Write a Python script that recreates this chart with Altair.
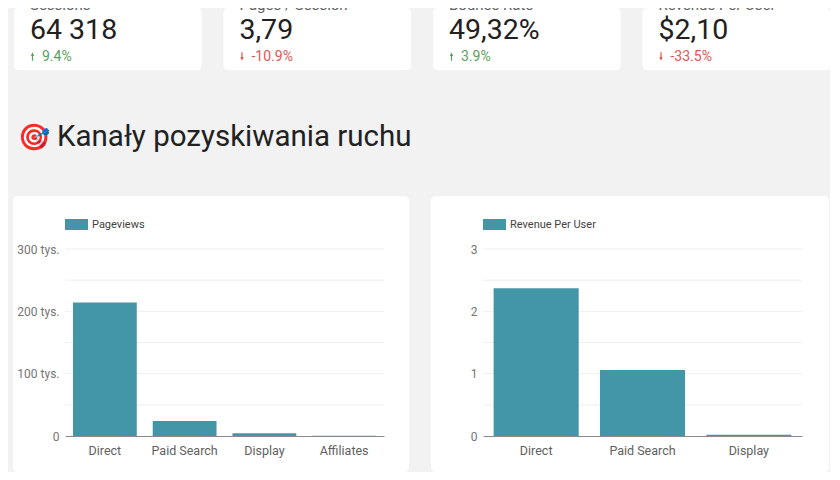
"""Dashboard: KPI i kanały pozyskiwania ruchu."""

import altair as alt
import pandas as pd


TLO = "#f2f2f2"
TURKUS = "#4396a6"
ZIELONY = "#5a9e5c"
CZERWONY = "#e0574f"
TEKST = "#212121"
SZARY = "#616161"

# KPI
kpi_nazwy = ["Sessions", "Pages / Session", "Bounce Rate", "Revenue Per User"]
kpi_wartosci = ["64 318", "3,79", "49,32%", "$2,10"]
kpi_zmiany = [9.4, -10.9, 3.9, -33.5]

naglowek = "Kanały pozyskiwania ruchu"

# wykres 1
kanaly_pv = ["Direct", "Paid Search", "Display", "Affiliates"]
pageviews = [214000, 24000, 4400, 300]
siatka_pv = [50000, 100000, 150000, 200000, 250000, 300000]
osie_pv = [0, 100000, 200000, 300000]

# wykres 2
kanaly_rpu = ["Direct", "Paid Search", "Display"]
revenue_per_user = [2.37, 1.06, 0.02]
siatka_rpu = [0.5, 1, 1.5, 2, 2.5, 3]
osie_rpu = [0, 1, 2, 3]

PRZESUNIECIE = -51  # karty KPI zaczynają się przy lewej krawędzi karty wykresu


def karty_kpi() -> alt.LayerChart:
    df = pd.DataFrame({"nazwa": kpi_nazwy, "wartosc": kpi_wartosci, "zmiana": kpi_zmiany})
    df["tekst"] = df["zmiana"].map(lambda z: f"{z}%")
    szer = 816 + PRZESUNIECIE
    skala = alt.Scale(paddingInner=0.105, paddingOuter=0, range=[PRZESUNIECIE, szer])
    x_start = alt.X("nazwa:N", sort=kpi_nazwy, axis=None, scale=skala, bandPosition=0)
    kolor = alt.condition("datum.zmiana > 0", alt.value(ZIELONY), alt.value(CZERWONY))
    base = alt.Chart(df)

    karta = base.mark_rect(color="white", cornerRadius=4).encode(
        x=alt.X("nazwa:N", sort=kpi_nazwy, axis=None, scale=skala),
        y=alt.value(0),
        y2=alt.value(62),
    )
    etykieta = base.mark_text(align="left", baseline="bottom", dx=16, fontSize=15, color=SZARY).encode(
        x=x_start, y=alt.value(5), text="nazwa:N"
    )
    wartosc = base.mark_text(align="left", baseline="alphabetic", dx=16, fontSize=28.5, color=TEKST).encode(
        x=x_start, y=alt.value(31), text="wartosc:N"
    )
    w_gore = base.transform_filter("datum.zmiana > 0").mark_point(
        shape="arrow", filled=True, size=70, xOffset=18.5, opacity=1, color=ZIELONY
    ).encode(x=x_start, y=alt.value(48.5))
    w_dol = base.transform_filter("datum.zmiana < 0").mark_point(
        shape="arrow", filled=True, size=70, xOffset=18.5, opacity=1, angle=180, color=CZERWONY
    ).encode(x=x_start, y=alt.value(48.5))
    zmiana = base.mark_text(align="left", baseline="alphabetic", dx=28, fontSize=14).encode(
        x=x_start, y=alt.value(53), text="tekst:N", color=kolor
    )
    tytul = alt.Chart(pd.DataFrame({"t": [naglowek]}))
    ikona = tytul.mark_text(align="left", baseline="middle", fontSize=26, text="🎯").encode(
        x=alt.value(PRZESUNIECIE + 4), y=alt.value(130)
    )
    napis = tytul.mark_text(align="left", baseline="alphabetic", fontSize=29.5, color=TEKST).encode(
        x=alt.value(PRZESUNIECIE + 43), y=alt.value(138), text="t:N"
    )
    return alt.layer(karta, etykieta, wartosc, w_gore, w_dol, zmiana, ikona, napis).properties(
        width=szer, height=188
    )


def panel(kanaly, wartosci, seria, siatka, osie, domena, label_expr, prawy=26) -> alt.LayerChart:
    """Karta z wykresem słupkowym."""
    w, h = 319, 187
    df = pd.DataFrame({"kanal": kanaly, "wartosc": wartosci})
    jedna = alt.Chart(pd.DataFrame({"seria": [seria]}))
    karta = jedna.mark_rect(color="white", cornerRadius=4).encode(
        x=alt.value(-52), x2=alt.value(w + prawy), y=alt.value(-53), y2=alt.value(h + 36)
    )
    leg_rect = jedna.mark_rect(color=TURKUS).encode(
        x=alt.value(0), x2=alt.value(23), y=alt.value(-30), y2=alt.value(-19)
    )
    leg_txt = jedna.mark_text(align="left", baseline="middle", fontSize=11, color="#424242").encode(
        x=alt.value(27), y=alt.value(-24.5), text="seria:N"
    )
    y_skala = alt.Scale(domain=domena, nice=False)
    siatka_df = pd.DataFrame({"v": siatka})
    grid = alt.Chart(siatka_df).mark_rule(color="#efefef", strokeWidth=1).encode(
        y=alt.Y("v:Q", scale=y_skala), x=alt.value(0), x2=alt.value(w)
    )
    slupki = alt.Chart(df).mark_bar(color=TURKUS).encode(
        x=alt.X(
            "kanal:N",
            sort=kanaly,
            title=None,
            scale=alt.Scale(paddingInner=0.2, paddingOuter=0.1),
            axis=alt.Axis(
                labelAngle=0, ticks=False, labelPadding=8, labelFontSize=12.5,
                labelColor=SZARY, domainColor="#8a8a8a", zindex=1,
            ),
        ),
        y=alt.Y(
            "wartosc:Q",
            title=None,
            scale=y_skala,
            axis=alt.Axis(
                values=osie, labelExpr=label_expr, grid=False, domain=False, ticks=False,
                labelPadding=6, labelFontSize=12, labelColor="#757575", zindex=1,
            ),
        ),
    )
    return alt.layer(karta, leg_rect, leg_txt, grid, slupki).properties(width=w, height=h)


lewy = panel(
    kanaly_pv, pageviews, "Pageviews", siatka_pv, osie_pv, [0, 300000],
    "datum.value == 0 ? '0' : (datum.value / 1000) + ' tys.'", prawy=25,
)
prawy = panel(
    kanaly_rpu, revenue_per_user, "Revenue Per User", siatka_rpu, osie_rpu, [0, 3],
    "format(datum.value, 'd')", prawy=27,
)

chart = alt.vconcat(
    karty_kpi(),
    alt.hconcat(lewy, prawy, spacing=22),
    spacing=0,
).properties(
    padding={"left": 5, "top": -10, "right": 0, "bottom": 0},
    background=TLO,
).configure(font="Roboto").configure_view(stroke=None)

chart.save("out.html", embed_options={"renderer": "svg", "actions": False})
